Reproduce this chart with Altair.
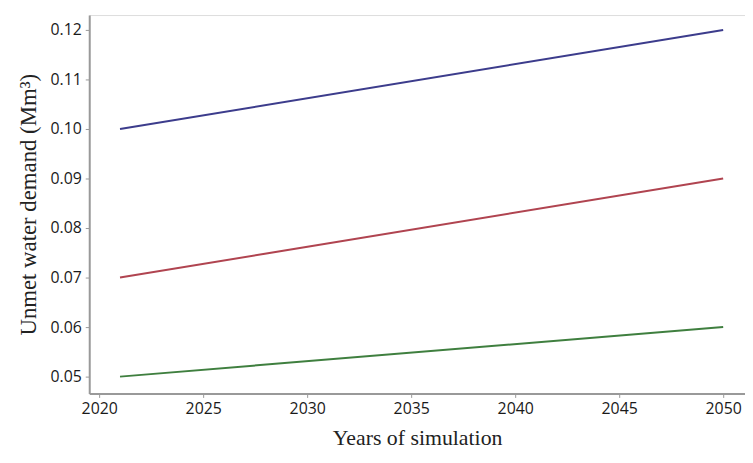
import altair as alt
import pandas as pd

years = [2021, 2050]
series_names = ["Blue", "Red", "Green"]
blue_vals = [0.100, 0.120]
red_vals = [0.070, 0.090]
green_vals = [0.050, 0.060]
colors = ["#3c3c8c", "#b04450", "#3f7f3f"]
x_ticks = [2020, 2025, 2030, 2035, 2040, 2045, 2050]
y_ticks = [0.05, 0.06, 0.07, 0.08, 0.09, 0.10, 0.11, 0.12]

rows = []
for name, vals in zip(series_names, [blue_vals, red_vals, green_vals]):
    for yr, v in zip(years, vals):
        rows.append({"year": yr, "value": v, "series": name})
df = pd.DataFrame(rows)

chart = alt.Chart(df).mark_line(strokeWidth=2).encode(
    x=alt.X("year:Q",
            scale=alt.Scale(domain=[2019.52, 2051.05], nice=False, zero=False),
            axis=alt.Axis(values=x_ticks, format="d", title="Years of simulation",
                          titleFont="Liberation Serif", titleFontSize=22,
                          titleFontWeight="normal", titleColor="#222",
                          titlePadding=12,
                          labelFont="Open Sans", labelFontSize=16, labelColor="#1a1a1a",
                          domainColor="#999", domainWidth=2, tickColor="#999",
                          tickSize=4, labelPadding=3, grid=False)),
    y=alt.Y("value:Q",
            scale=alt.Scale(domain=[0.0466, 0.123], nice=False, zero=False),
            axis=alt.Axis(values=y_ticks, format=".2f",
                          title="Unmet water demand (Mm³)",
                          titleFont="Liberation Serif", titleFontSize=23,
                          titleFontWeight="normal", titleColor="#222",
                          titlePadding=10,
                          labelFont="Open Sans", labelFontSize=16, labelColor="#1a1a1a",
                          domainColor="#999", domainWidth=2, tickColor="#999",
                          tickSize=4, labelPadding=4, grid=False)),
    color=alt.Color("series:N", scale=alt.Scale(domain=series_names, range=colors),
                    legend=None),
).properties(
    width=662, height=382,
    autosize=alt.AutoSizeParams(type="none"),
    padding={"left": 82, "top": 5, "right": 0, "bottom": 60},
).configure_view(
    stroke="#dddddd"
)

chart.save("out.html", embed_options={"renderer": "svg", "actions": False})
